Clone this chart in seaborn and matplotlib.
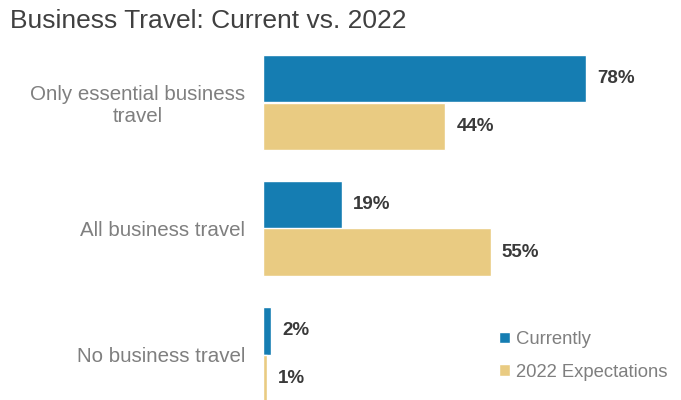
import matplotlib
matplotlib.use("Agg")
import matplotlib.pyplot as plt
import seaborn as sns
import pandas as pd

categories = ["Only essential business\ntravel", "All business travel", "No business travel"]
series_names = ["Currently", "2022 Expectations"]
currently = [78, 19, 2]
expectations_2022 = [44, 55, 1]

colors = ["#157db2", "#e9cb82"]

df = pd.DataFrame({
    "category": categories * 2,
    "series": [series_names[0]] * 3 + [series_names[1]] * 3,
    "value": currently + expectations_2022,
})

sns.set_theme(style="white")
plt.rcParams["font.family"] = ["Liberation Sans", "DejaVu Sans"]

fig = plt.figure(figsize=(6.81, 4.0), dpi=100)
ax = fig.add_axes([263 / 681, 0.0, 1 - 263 / 681, 0.9])

sns.barplot(data=df, y="category", x="value", hue="series", order=categories,
            hue_order=series_names, palette=colors, width=0.754, saturation=1,
            orient="h", ax=ax, legend=True)

ax.set_xlim(0, (681 - 263) / 4.14)
ax.set_ylim(2 + (400 - 354.5) / 126, -(102.5 - 40) / 126)

for container in ax.containers:
    ax.bar_label(container, labels=[f"{v:.0f}%" for v in container.datavalues],
                 padding=8, fontsize=13.5, fontweight="bold", color="#3a3a3a")

ax.set_xlabel("")
ax.set_ylabel("")
ax.set_xticks([])
ax.tick_params(axis="y", length=0, pad=13)
for lbl in ax.get_yticklabels():
    lbl.set_fontsize(14.8)
    lbl.set_color("#7f7f7f")
    lbl.set_multialignment("center")
for s in ax.spines.values():
    s.set_visible(False)

leg = ax.legend(loc="lower left", bbox_to_anchor=((492 - 263) / 418, 0.033),
                frameon=False, fontsize=13.3, handlelength=0.6, handleheight=0.6,
                handletextpad=0.3, labelspacing=0.85, borderaxespad=0)
for t in leg.get_texts():
    t.set_color("#7f7f7f")

fig.text(10 / 681, 1 - 21 / 400, "Business Travel: Current vs. 2022", fontsize=19,
         color="#404040", va="center", ha="left")

fig.savefig("out.png", dpi=100)
